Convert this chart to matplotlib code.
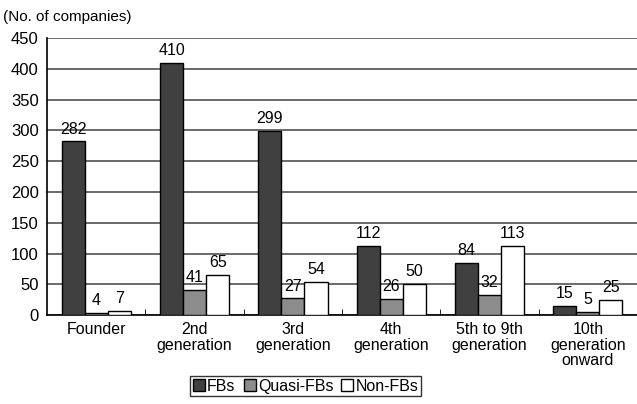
import matplotlib.pyplot as plt
import numpy as np

plt.rcParams["font.family"] = ["Liberation Sans", "DejaVu Sans"]

categories = ["Founder", "2nd\ngeneration", "3rd\ngeneration", "4th\ngeneration",
              "5th to 9th\ngeneration", "10th\ngeneration\nonward"]
fbs = [282, 410, 299, 112, 84, 15]
quasi_fbs = [4, 41, 27, 26, 32, 5]
non_fbs = [7, 65, 54, 50, 113, 25]
series_names = ["FBs", "Quasi-FBs", "Non-FBs"]

fig = plt.figure(figsize=(6.37, 4.04), dpi=100)
ax = fig.add_axes([0.074, 0.22, 0.926, 0.686])

x = np.arange(len(categories))
w = 0.235
colors = ["#404040", "#8c8c8c", "#ffffff"]
for i, (vals, name) in enumerate(zip([fbs, quasi_fbs, non_fbs], series_names)):
    pos = x + (i - 1) * w
    ax.bar(pos, vals, w, color=colors[i], edgecolor="black", linewidth=1.0,
           label=name, zorder=3)
    for p, v in zip(pos, vals):
        ax.text(p, v + 8, str(v), ha="center", va="bottom", fontsize=11.5, zorder=4)

ax.set_ylim(0, 450)
ax.set_yticks(range(0, 451, 50))
ax.set_xlim(-0.5, len(categories) - 0.5)
ax.set_xticks(x)
ax.set_xticklabels(categories, fontsize=11.5, linespacing=1.05)
ax.set_xticks(np.arange(0.5, len(categories) - 0.5, 1), minor=True)
ax.tick_params(axis="x", which="major", length=0, pad=5)
ax.tick_params(axis="x", which="minor", direction="in", length=4)
ax.tick_params(axis="y", length=0, labelsize=12, pad=6)
ax.grid(axis="y", color="#505050", linewidth=1.2, zorder=0)
for s in ["top", "right"]:
    ax.spines[s].set_visible(False)
ax.spines["left"].set_linewidth(1.2)
ax.spines["bottom"].set_linewidth(1.2)

fig.text(0.005, 0.975, "(No. of companies)", fontsize=11, va="top", ha="left")

leg = fig.legend(loc="lower center", bbox_to_anchor=(0.48, 0.0), ncol=3,
                 fontsize=11.5, frameon=True, fancybox=False, edgecolor="black",
                 handlelength=0.75, handleheight=0.75, handletextpad=0.15,
                 columnspacing=0.5, borderpad=0.15)
leg.get_frame().set_linewidth(1.0)

fig.savefig("out.png", dpi=100)
